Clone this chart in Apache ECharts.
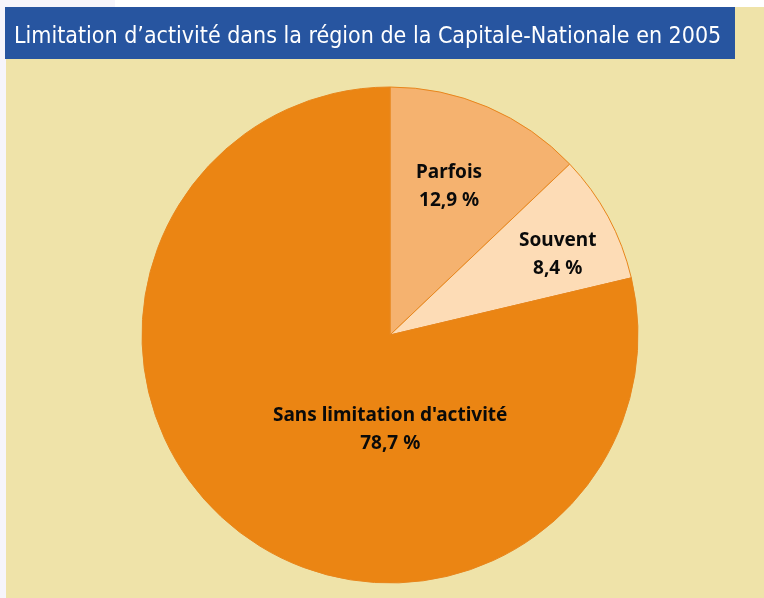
<!DOCTYPE html>
<html>
<head>
<meta charset="utf-8">
<script src="https://cdn.jsdelivr.net/npm/echarts@6/dist/echarts.min.js"></script>
<style>
  html, body { margin: 0; padding: 0; background: #f6f5fb; }
  #main { width: 764px; height: 598px; }
</style>
</head>
<body>
<div id="main"></div>
<script>
// données du graphique
var categories = ['Parfois', 'Souvent', "Sans limitation d'activité"];
var values = [12.9, 8.4, 78.7];
var colors = ['#f5b26f', '#fddcb6', '#eb8513'];
// décalage des étiquettes (px)
var labelShift = [[9, -32], [56, -20], [79, -5]];

var myChart = echarts.init(document.getElementById('main'));

var option = {
    backgroundColor: '#f6f5fb',
    animation: false,
    graphic: [
        { type: 'rect', shape: { x: 115, y: 0, width: 649, height: 7 }, style: { fill: '#ffffff' }, z: -10 },
        { type: 'rect', shape: { x: 6, y: 7, width: 758, height: 591 }, style: { fill: '#efe3a9' }, z: -10 },
        { type: 'rect', shape: { x: 5, y: 7, width: 730, height: 52 }, style: { fill: '#2755a0' }, z: -9 }
    ],
    title: {
        text: 'Limitation d\u2019activité dans la région de la Capitale-Nationale en 2005',
        left: 14,
        top: 26,
        padding: 0,
        textStyle: {
            color: '#ffffff',
            fontFamily: '"Liberation Sans Narrow", "DejaVu Sans Condensed", sans-serif',
            fontWeight: 'normal',
            fontSize: 23
        }
    },
    series: [{
        type: 'pie',
        center: [390, 335],
        radius: 248,
        startAngle: 90,
        clockwise: true,
        silent: true,
        itemStyle: {
            borderColor: '#e8861c',
            borderWidth: 1
        },
        label: {
            position: 'inside',
            formatter: function (p) {
                return p.name + '\n' + String(p.value).replace('.', ',') + ' %';
            },
            color: '#0a0a0a',
            fontFamily: '"Noto Sans", sans-serif',
            fontWeight: 'bold',
            fontSize: 19,
            lineHeight: 28
        },
        labelLayout: function (params) {
            var s = labelShift[params.dataIndex];
            return { dx: s[0], dy: s[1] };
        },
        data: categories.map(function (c, i) {
            return { name: c, value: values[i], itemStyle: { color: colors[i] } };
        })
    }]
};

myChart.setOption(option);
</script>
</body>
</html>
